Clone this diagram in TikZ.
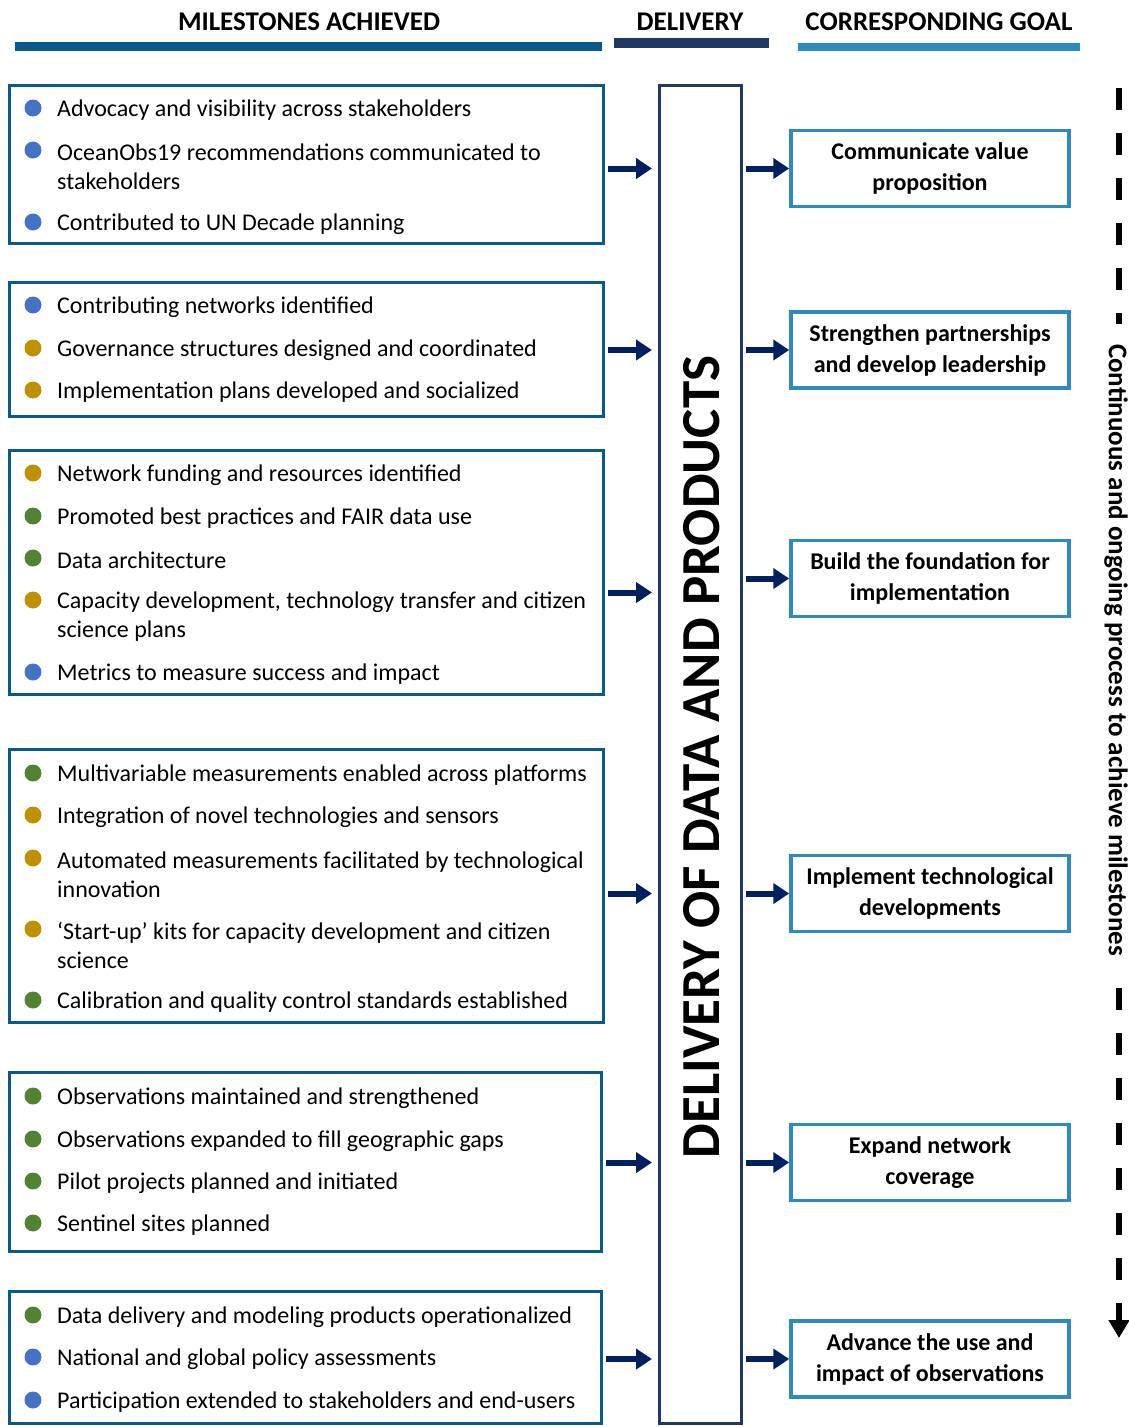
\documentclass[tikz,border=0pt]{standalone}
\usepackage{fontspec}
\setmainfont{Carlito}
\usetikzlibrary{arrows.meta,positioning}
\definecolor{mblue}{RGB}{8,90,140}
\definecolor{navy}{RGB}{31,56,100}
\definecolor{lblue}{RGB}{46,139,192}
\definecolor{arrblue}{RGB}{0,32,96}
\definecolor{bblue}{RGB}{68,114,196}
\definecolor{gold}{RGB}{191,144,0}
\definecolor{green}{RGB}{84,130,53}

\begin{document}
\begin{tikzpicture}[x=1pt,y=-1pt,
  mybox/.style={draw=mblue,line width=3pt,minimum width=594pt,inner sep=0pt},
  goalbox/.style={draw=lblue,line width=3.5pt,minimum width=278pt,minimum height=76pt,align=center,inner sep=0pt,font=\bfseries\fontsize{24}{31}\selectfont},
  item/.style={anchor=west,inner sep=0pt,yshift=-2pt,align=left,font=\fontsize{24}{29}\selectfont},
  head/.style={font=\bfseries\fontsize{27}{30}\selectfont},
  myarrow/.style={draw=arrblue,line width=6pt,-{Triangle[length=16pt,width=20pt]},shorten <=3pt}]
\useasboundingbox (0,0) rectangle (1129,1427);

\node[head] (H1) at (309,22) {MILESTONES ACHIEVED};
\node[head] (H2) at (690,22) {DELIVERY};
\node[head] (H3) at (939,22) {CORRESPONDING GOAL};
\fill[mblue] (15,42) rectangle (602,51);
\fill[navy] (614,38) rectangle (769,48);
\fill[lblue] (798,43) rectangle (1080,51);

\node[mybox,minimum height=158pt] (M1) at (306.5,164.5) {};
\node[mybox,minimum height=134pt] (M2) at (306.5,349.5) {};
\node[mybox,minimum height=244pt] (M3) at (306.5,572.5) {};
\node[mybox,minimum height=273pt] (M4) at (306.5,886) {};
\node[mybox,minimum width=592pt,minimum height=179pt] (M5) at (305.5,1162) {};
\node[mybox,minimum width=592pt,minimum height=132pt] (M6) at (305.5,1357.5) {};

\fill[bblue] (33,108) circle (8.5pt); \node[item] (A1) at (57,108) {Advocacy and visibility across stakeholders};
\fill[bblue] (33,150) circle (8.5pt); \node[item] (A2) at (57,164.5) {OceanObs19 recommendations communicated to\\stakeholders};
\fill[bblue] (33,222) circle (8.5pt); \node[item] (A3) at (57,222) {Contributed to UN Decade planning};

\fill[bblue] (33,305) circle (8.5pt); \node[item] (B1) at (57,305) {Contributing networks identified};
\fill[gold] (33,348) circle (8.5pt); \node[item] (B2) at (57,348) {Governance structures designed and coordinated};
\fill[gold] (33,390) circle (8.5pt); \node[item] (B3) at (57,390) {Implementation plans developed and socialized};

\fill[gold] (33,473) circle (8.5pt); \node[item] (C1) at (57,473) {Network funding and resources identified};
\fill[green] (33,516) circle (8.5pt); \node[item] (C2) at (57,516) {Promoted best practices and FAIR data use};
\fill[green] (33,558) circle (8.5pt); \node[item] (C3) at (57,558) {Data architecture};
\fill[gold] (33,600) circle (8.5pt); \node[item] (C4) at (57,614.5) {Capacity development, technology transfer and citizen\\science plans};
\fill[bblue] (33,672) circle (8.5pt); \node[item] (C5) at (57,672) {Metrics to measure success and impact};

\fill[green] (33,773) circle (8.5pt); \node[item] (E1) at (57,773) {Multivariable measurements enabled across platforms};
\fill[gold] (33,815) circle (8.5pt); \node[item] (E2) at (57,815) {Integration of novel technologies and sensors};
\fill[gold] (33,858) circle (8.5pt); \node[item] (E3) at (57,872.5) {Automated measurements facilitated by technological\\innovation};
\fill[gold] (33,929) circle (8.5pt); \node[item] (E4) at (57,943.5) {‘Start-up’ kits for capacity development and citizen\\science};
\fill[green] (33,1000) circle (8.5pt); \node[item] (E5) at (57,1000) {Calibration and quality control standards established};

\fill[green] (33,1096) circle (8.5pt); \node[item] (F1) at (57,1096) {Observations maintained and strengthened};
\fill[green] (33,1139) circle (8.5pt); \node[item] (F2) at (57,1139) {Observations expanded to fill geographic gaps};
\fill[green] (33,1181) circle (8.5pt); \node[item] (F3) at (57,1181) {Pilot projects planned and initiated};
\fill[green] (33,1223) circle (8.5pt); \node[item] (F4) at (57,1223) {Sentinel sites planned};

\fill[green] (33,1315) circle (8.5pt); \node[item] (K1) at (57,1315) {Data delivery and modeling products operationalized};
\fill[bblue] (33,1357) circle (8.5pt); \node[item] (K2) at (57,1357) {National and global policy assessments};
\fill[bblue] (33,1400) circle (8.5pt); \node[item] (K3) at (57,1400) {Participation extended to stakeholders and end-users};

\node[draw=navy,line width=3pt,minimum width=82pt,minimum height=1338pt] (D) at (700.5,754.5) {};
\node[rotate=90,font=\bfseries\fontsize{55}{60}\selectfont] (DT) at (702,757) {DELIVERY OF DATA AND PRODUCTS};

\node[goalbox] (G1) at (930,168.5) {Communicate value\\proposition};
\node[goalbox] (G2) at (930,350) {Strengthen partnerships\\and develop leadership};
\node[goalbox] (G3) at (930,578.5) {Build the foundation for\\implementation};
\node[goalbox] (G4) at (930,893.5) {Implement technological\\developments};
\node[goalbox] (G5) at (930,1162.5) {Expand network\\coverage};
\node[goalbox] (G6) at (930,1359) {Advance the use and\\impact of observations};

\foreach \i in {1,2,4,5,6}
  \draw[myarrow,shorten >=6pt] (M\i.east |- G\i) -- (D.west |- G\i);
\coordinate (M3a) at ([yshift=-20pt]M3.east);
\draw[myarrow,shorten >=6pt] (M3a) -- (D.west |- M3a);
\foreach \i in {1,...,6}
  \draw[myarrow] (D.east |- G\i) -- (G\i.west);

\coordinate (T) at (1119,88);
\coordinate (B) at (1119,1338);
\draw[line width=6pt,dash pattern=on 22pt off 23pt,-{Triangle[length=18pt,width=20pt]}] (T) -- (B);
\node[fill=white,rotate=-90,inner xsep=20pt,inner ysep=1pt,font=\bfseries\fontsize{27}{30}\selectfont] (P) at (1116,650) {Continuous and ongoing process to achieve milestones};
\end{tikzpicture}
\end{document}
